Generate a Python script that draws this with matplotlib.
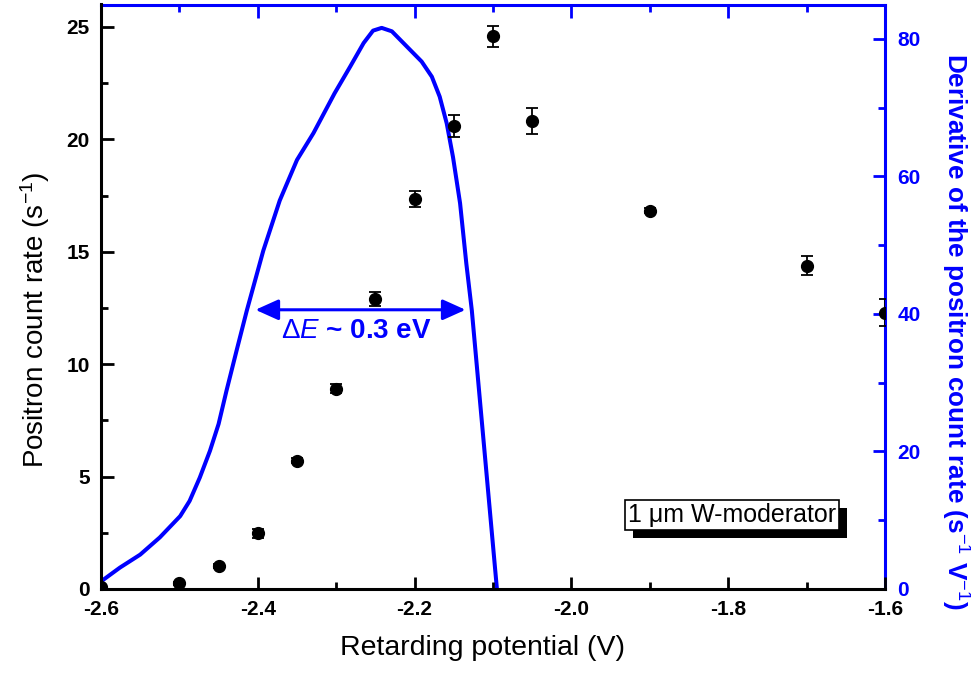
import matplotlib
matplotlib.use('Agg')
import matplotlib.pyplot as plt
from matplotlib.ticker import MultipleLocator, FixedLocator
from matplotlib import patheffects as pe

plt.rcParams['font.family'] = ['Liberation Sans', 'DejaVu Sans']
plt.rcParams['mathtext.fontset'] = 'custom'
plt.rcParams['mathtext.rm'] = 'Liberation Sans'
plt.rcParams['mathtext.it'] = 'Liberation Sans:italic'
plt.rcParams['mathtext.bf'] = 'Liberation Sans:bold'

BLUE = '#0000FF'

# measured positron count rate (left axis)
potential = [-2.60, -2.50, -2.45, -2.40, -2.35, -2.30, -2.25, -2.20, -2.15, -2.10, -2.05, -1.90, -1.70, -1.60]
count_rate = [0.10, 0.25, 1.02, 2.47, 5.71, 8.90, 12.91, 17.34, 20.60, 24.59, 20.83, 16.83, 14.39, 12.28]
count_err = [0.05, 0.05, 0.08, 0.20, 0.12, 0.20, 0.30, 0.35, 0.48, 0.47, 0.57, 0.12, 0.44, 0.60]

# derivative curve (right axis)
deriv_x = [-2.600, -2.576, -2.550, -2.525, -2.499, -2.487, -2.474, -2.461, -2.450, -2.440,
           -2.427, -2.414, -2.393, -2.372, -2.350, -2.329, -2.302, -2.282, -2.265, -2.253,
           -2.242, -2.229, -2.210, -2.191, -2.178, -2.168, -2.159, -2.151, -2.142, -2.134,
           -2.127, -2.095]
deriv_y = [1.1, 3.1, 5.0, 7.5, 10.6, 12.8, 16.2, 20.1, 24.0, 28.8,
           34.7, 40.5, 49.2, 56.5, 62.4, 66.3, 72.1, 76.0, 79.4, 81.2,
           81.6, 81.1, 78.9, 76.7, 74.5, 71.6, 67.7, 62.8, 56.1, 47.3,
           40.5, 0.0]

x_ticks = [-2.6, -2.4, -2.2, -2.0, -1.8, -1.6]
x_tick_labels = ['-2.6', '-2.4', '-2.2', '-2.0', '-1.8', '-1.6']
left_ticks = [0, 5, 10, 15, 20, 25]
right_ticks = [0, 20, 40, 60, 80]

# annotations
fwhm_start, fwhm_end, fwhm_level = -2.403, -2.135, 12.42
fwhm_text = r'$\Delta\mathit{E}$ ~ 0.3 eV'
box_text = '1 \u03bcm W-moderator'

fig = plt.figure(figsize=(9.71, 6.74), dpi=100)
ax = fig.add_axes([101 / 971, 1 - 589 / 674, 784 / 971, 584.5 / 674])
ax2 = ax.twinx()
ax.set_zorder(ax2.get_zorder() + 1)
ax.patch.set_visible(False)

ax.set_xlim(-2.6, -1.6)
ax.set_ylim(0, 26)
ax2.set_ylim(0, 85)

# derivative curve
ax2.plot(deriv_x, deriv_y, color=BLUE, lw=2.9, solid_joinstyle='round', solid_capstyle='butt')

# data with error bars
ax.errorbar(potential, count_rate, yerr=count_err, fmt='o', color='black', ms=8.5,
            capsize=4.5, elinewidth=1.3, capthick=1.3, zorder=3)

# spines
spw = 2.2
ax.spines['top'].set_visible(False)
ax.spines['right'].set_visible(False)
ax.spines['left'].set_linewidth(spw)
ax.spines['bottom'].set_linewidth(spw)
ax2.spines['left'].set_visible(False)
ax2.spines['bottom'].set_visible(False)
for s in ('top', 'right'):
    ax2.spines[s].set_color(BLUE)
    ax2.spines[s].set_linewidth(spw)

# ticks
ax.xaxis.set_major_locator(FixedLocator(x_ticks))
ax.set_xticklabels(x_tick_labels)
ax.xaxis.set_minor_locator(MultipleLocator(0.1))
ax.yaxis.set_major_locator(FixedLocator(left_ticks))
ax.yaxis.set_minor_locator(MultipleLocator(2.5))
ax2.yaxis.set_major_locator(FixedLocator(right_ticks))
ax2.yaxis.set_minor_locator(MultipleLocator(10))

ax.tick_params(axis='both', which='major', direction='in', length=9, width=2.0,
               labelsize=15, pad=8, top=False, right=False)
ax.tick_params(axis='both', which='minor', direction='in', length=5, width=2.0,
               top=False, right=False)
for lab in ax.get_xticklabels() + ax.get_yticklabels():
    lab.set_fontweight('bold')

ax2.xaxis.set_visible(True)
ax2.tick_params(axis='x', which='both', bottom=False, top=True, labelbottom=False,
                labeltop=False, direction='in', color=BLUE, width=2.0)
ax2.tick_params(axis='x', which='major', length=9)
ax2.tick_params(axis='x', which='minor', length=5)
ax2.tick_params(axis='y', which='major', direction='in', length=9, width=2.0,
                color=BLUE, labelcolor=BLUE, labelsize=15, pad=9)
ax2.tick_params(axis='y', which='minor', direction='in', length=5, width=2.0, color=BLUE)
for lab in ax2.get_yticklabels():
    lab.set_fontweight('bold')

# labels
ax.set_xlabel('Retarding potential (V)', fontsize=20.5)
ax.xaxis.set_label_coords(0.486, -0.0787)
ax.set_ylabel('Positron count rate (s$^{-1}$)', fontsize=20)
ax.yaxis.set_label_coords(-0.0625, 0.46)
ax2.set_ylabel('Derivative of the positron count rate (s$^{-1}$ V$^{-1}$)', fontsize=18.8,
               fontweight='bold', color=BLUE, rotation=270, va='bottom')
ax2.yaxis.set_label_coords(1.069, 0.44)

# FWHM arrow and text
ax.annotate('', xy=(fwhm_end, fwhm_level), xytext=(fwhm_start, fwhm_level),
            arrowprops=dict(arrowstyle='<|-|>,head_length=1.0,head_width=0.45',
                            color=BLUE, lw=2.2, mutation_scale=14, shrinkA=0, shrinkB=0),
            zorder=4)
ax.text(-2.274, 11.46, fwhm_text, color=BLUE, fontsize=20, fontweight='bold',
        ha='center', va='center', zorder=4)

# boxed label with shadow
bx, by = -1.7955, 3.3
t = ax.text(bx, by, box_text, ha='center', va='center', fontsize=18, color='black',
            bbox=dict(boxstyle='square,pad=0.12', fc='white', ec='black', lw=1.2), zorder=6)
t.get_bbox_patch().set_path_effects([
    pe.SimplePatchShadow(offset=(5.8, -5.8), shadow_rgbFace='black', alpha=1.0),
    pe.Normal()])

fig.savefig('out.png', dpi=100, facecolor='white')
